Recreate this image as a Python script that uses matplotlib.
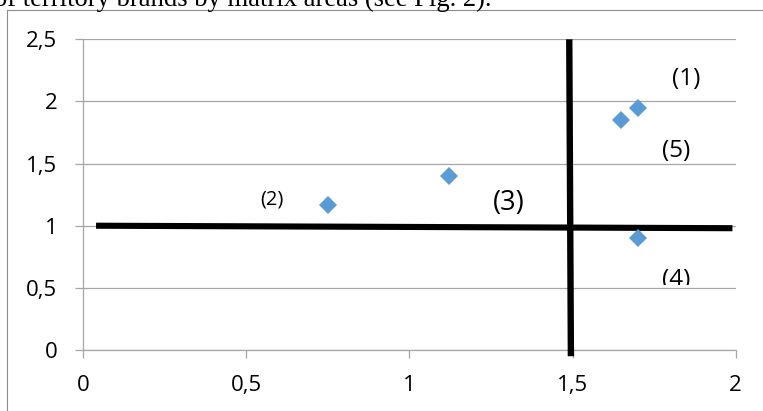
import matplotlib
matplotlib.use('Agg')
import matplotlib.pyplot as plt
from matplotlib.lines import Line2D
from matplotlib.transforms import Bbox, TransformedBbox

# ---- data ----
brand_x = [0.75, 1.12, 1.65, 1.70, 1.70]
brand_y = [1.17, 1.40, 1.85, 1.95, 0.90]

hline_x = [0.04, 1.99]
hline_y = [1.00, 0.98]
vline_x = [1.49, 1.495]
vline_y = [2.50, -0.05]

area_labels = ['(1)', '(5)', '(4)', '(3)', '(2)']
area_x = [1.847, 1.817, 1.817, 1.305, 0.578]
area_y = [2.18, 1.603, 0.56, 1.183, 1.212]
area_sizes = [17.5, 17.5, 17.5, 19.5, 14.5]

x_ticks = [0, 0.5, 1, 1.5, 2]
x_tick_labels = ['0', '0,5', '1', '1,5', '2']
y_ticks = [0, 0.5, 1, 1.5, 2, 2.5]
y_tick_labels = ['0', '0,5', '1', '1,5', '2', '2,5']

caption = 'of territory brands by matrix areas (see Fig. 2).'

W, H = 763, 411
plt.rcParams['font.family'] = ['Open Sans', 'DejaVu Sans']

fig = plt.figure(figsize=(W / 100, H / 100), dpi=100)
fig.patch.set_facecolor('white')

# surrounding chart frame (partially visible)
frame_c = '#8c8c8c'
fig.add_artist(Line2D([7 / W, 7 / W], [0, 1 - 10 / H], transform=fig.transFigure,
                      color=frame_c, lw=0.8))
fig.add_artist(Line2D([7 / W, 1], [1 - 10 / H, 1 - 10 / H], transform=fig.transFigure,
                      color=frame_c, lw=0.8))

# caption text from the document (cut at the top)
fig.text(-6 / W, 1 - 5.5 / H, caption, family='Liberation Serif', fontsize=19.2,
         ha='left', va='baseline', color='black')

ax = fig.add_axes([83 / W, 1 - 350 / H, (735.7 - 83) / W, (350 - 39.3) / H])
ax.set_xlim(0, 2)
ax.set_ylim(0, 2.5)

grid_c = '#a6a6a6'
for s in ['top', 'right']:
    ax.spines[s].set_visible(False)
for s in ['left', 'bottom']:
    ax.spines[s].set_color(grid_c)
    ax.spines[s].set_linewidth(0.9)

ax.set_xticks(x_ticks)
ax.set_xticklabels(x_tick_labels)
ax.set_yticks(y_ticks)
ax.set_yticklabels(y_tick_labels)
ax.tick_params(axis='y', length=5.5, width=0.9, color=grid_c, pad=13, labelsize=16)
ax.tick_params(axis='x', length=5.5, width=0.9, color=grid_c, pad=12.5, labelsize=16)
ax.yaxis.grid(True, color=grid_c, lw=0.9)
ax.set_axisbelow(True)

# dividing lines
ax.plot(hline_x, hline_y, color='black', lw=4.4, solid_capstyle='butt', zorder=3)
ax.plot(vline_x, vline_y, color='black', lw=4.6, solid_capstyle='butt', zorder=3,
        clip_on=False)

# brands
ax.plot(brand_x, brand_y, linestyle='none', marker='D', ms=9.5, color='#5b9bd5',
        markeredgewidth=0, zorder=4)

for lab, x, y, fs in zip(area_labels, area_x, area_y, area_sizes):
    t = ax.text(x, y, lab, fontsize=fs, ha='center', va='center', color='black', zorder=5)
    if lab == '(4)':
        t.set_clip_box(TransformedBbox(Bbox([[1.5, 0.52], [2.0, 1.0]]), ax.transData))
        t.set_clip_on(True)

fig.savefig('out.png', dpi=100, facecolor='white')
